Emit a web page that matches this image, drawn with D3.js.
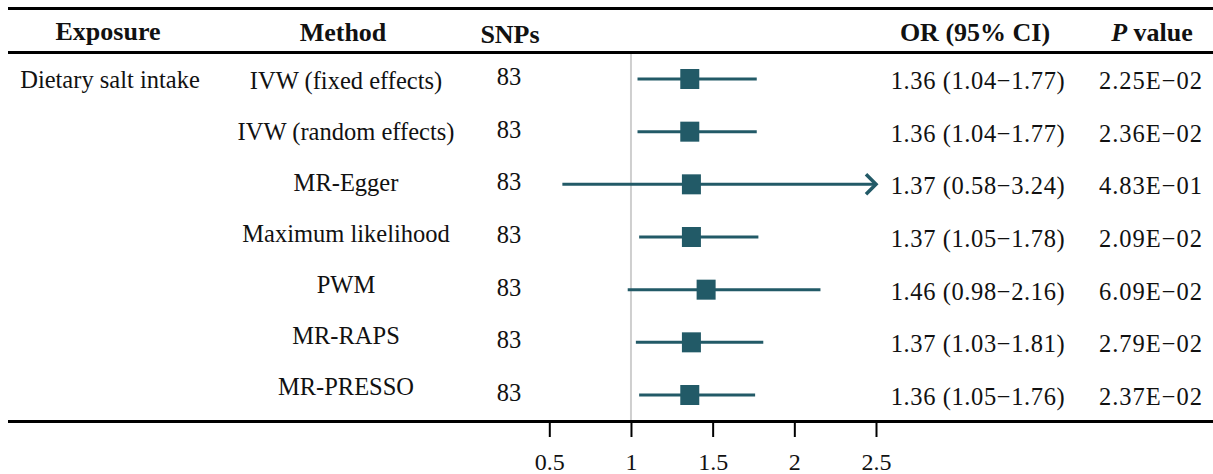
<!DOCTYPE html>
<html>
<head>
<meta charset="utf-8">
<script src="https://cdn.jsdelivr.net/npm/d3@7"></script>
<style>
  body { margin: 0; background: #fff; }
  text { font-family: "Liberation Serif", "Times New Roman", serif; fill: #111; }
</style>
</head>
<body>
<script>
// data
var exposure = 'Dietary salt intake';
var methods = ['IVW (fixed effects)', 'IVW (random effects)', 'MR-Egger',
  'Maximum likelihood', 'PWM', 'MR-RAPS', 'MR-PRESSO'];
var snps = [83, 83, 83, 83, 83, 83, 83];
var orValues = [1.36, 1.36, 1.37, 1.37, 1.46, 1.37, 1.36];
var ciLower = [1.04, 1.04, 0.58, 1.05, 0.98, 1.03, 1.05];
var ciUpper = [1.77, 1.77, 3.24, 1.78, 2.16, 1.81, 1.76];
var pValues = ['2.25E\u221202', '2.36E\u221202', '4.83E\u221201', '2.09E\u221202',
  '6.09E\u221202', '2.79E\u221202', '2.37E\u221202'];
var tickValues = [0.5, 1, 1.5, 2, 2.5];

var rows = methods.map(function (m, i) {
  return { method: m, snp: snps[i], or: orValues[i], lo: ciLower[i], hi: ciUpper[i], p: pValues[i] };
});

// ----------------------------------------------------------------------------
var width = 1213, height = 474;
var markColor = '#225a67';

var svg = d3.select('body').append('svg')
  .attr('width', width)
  .attr('height', height);

var x = d3.scaleLinear().domain([0.5, 2.5]).range([549.3, 876]);
var y = d3.scalePoint().domain(methods).range([79, 395]);
// method labels sit on a slightly tighter grid than the marks
var yLabel = d3.scalePoint().domain(methods).range([89, 395]);

// table rules
[8.5, 52.5, 421.5].forEach(function (ry) {
  svg.append('line')
    .attr('x1', 8).attr('x2', width)
    .attr('y1', ry).attr('y2', ry)
    .attr('stroke', '#000')
    .attr('stroke-width', 3);
});

// header
var header = svg.append('g')
  .attr('font-weight', 'bold')
  .attr('font-size', 26)
  .attr('text-anchor', 'middle');

header.append('text').attr('x', 108).attr('y', 40).text('Exposure');
header.append('text').attr('x', 343).attr('y', 41).text('Method');
header.append('text').attr('x', 510).attr('y', 43).text('SNPs');
header.append('text').attr('x', 975).attr('y', 41).text('OR (95% CI)');
var pHead = header.append('text').attr('x', 1152).attr('y', 41);
pHead.append('tspan').attr('font-style', 'italic').text('P');
pHead.append('tspan').text(' value');

// reference line at OR = 1
svg.append('line')
  .attr('x1', x(1)).attr('x2', x(1))
  .attr('y1', 54).attr('y2', 420)
  .attr('stroke', '#cfcfcf')
  .attr('stroke-width', 2);

// row texts
svg.append('text')
  .attr('x', 110).attr('y', y(methods[0]) + 9)
  .attr('font-size', 24.5)
  .attr('text-anchor', 'middle')
  .text(exposure);

var rowG = svg.selectAll('g.row')
  .data(rows)
  .enter()
  .append('g')
  .attr('class', 'row')
  .attr('font-size', 24.5)
  .attr('text-anchor', 'middle');

rowG.append('text')
  .attr('x', 346)
  .attr('y', function (d) { return yLabel(d.method); })
  .text(function (d) { return d.method; });

rowG.append('text')
  .attr('x', 509)
  .attr('y', function (d) { return y(d.method) + 6; })
  .text(function (d) { return d.snp; });

rowG.append('text')
  .attr('x', 978)
  .attr('y', function (d) { return y(d.method) + 10; })
  .attr('letter-spacing', 0.6)
  .text(function (d) {
    return d.or.toFixed(2) + ' (' + d.lo.toFixed(2) + '\u2212' + d.hi.toFixed(2) + ')';
  });

rowG.append('text')
  .attr('x', 1151)
  .attr('y', function (d) { return y(d.method) + 10; })
  .attr('letter-spacing', 1)
  .text(function (d) { return d.p; });

// confidence intervals
var xMax = x.domain()[1];
rowG.append('line')
  .attr('x1', function (d) { return x(d.lo); })
  .attr('x2', function (d) { return x(Math.min(d.hi, xMax)); })
  .attr('y1', function (d) { return y(d.method); })
  .attr('y2', function (d) { return y(d.method); })
  .attr('stroke', markColor)
  .attr('stroke-width', 3);

// arrow heads for clipped intervals
rowG.filter(function (d) { return d.hi > xMax; })
  .append('path')
  .attr('d', function (d) {
    var tx = x(xMax), ty = y(d.method);
    return 'M' + (tx - 10) + ',' + (ty - 10) + 'L' + tx + ',' + ty + 'L' + (tx - 10) + ',' + (ty + 10);
  })
  .attr('fill', 'none')
  .attr('stroke', markColor)
  .attr('stroke-width', 3.5);

// point estimates
rowG.append('rect')
  .attr('x', function (d) { return x(d.or) - 9.5; })
  .attr('y', function (d) { return y(d.method) - 10; })
  .attr('width', 19)
  .attr('height', 20)
  .attr('fill', markColor);

// axis
var axis = svg.append('g')
  .attr('transform', 'translate(0,422)')
  .call(d3.axisBottom(x).tickValues(tickValues).tickSize(15).tickSizeOuter(0).tickFormat(d3.format('')));

axis.select('.domain').remove();
axis.selectAll('.tick line')
  .attr('stroke', '#000')
  .attr('stroke-width', 2);
axis.selectAll('.tick text')
  .attr('font-size', 24)
  .attr('font-family', '"Liberation Serif", "Times New Roman", serif')
  .attr('fill', '#111')
  .attr('dy', null)
  .attr('y', 48);
</script>
</body>
</html>
